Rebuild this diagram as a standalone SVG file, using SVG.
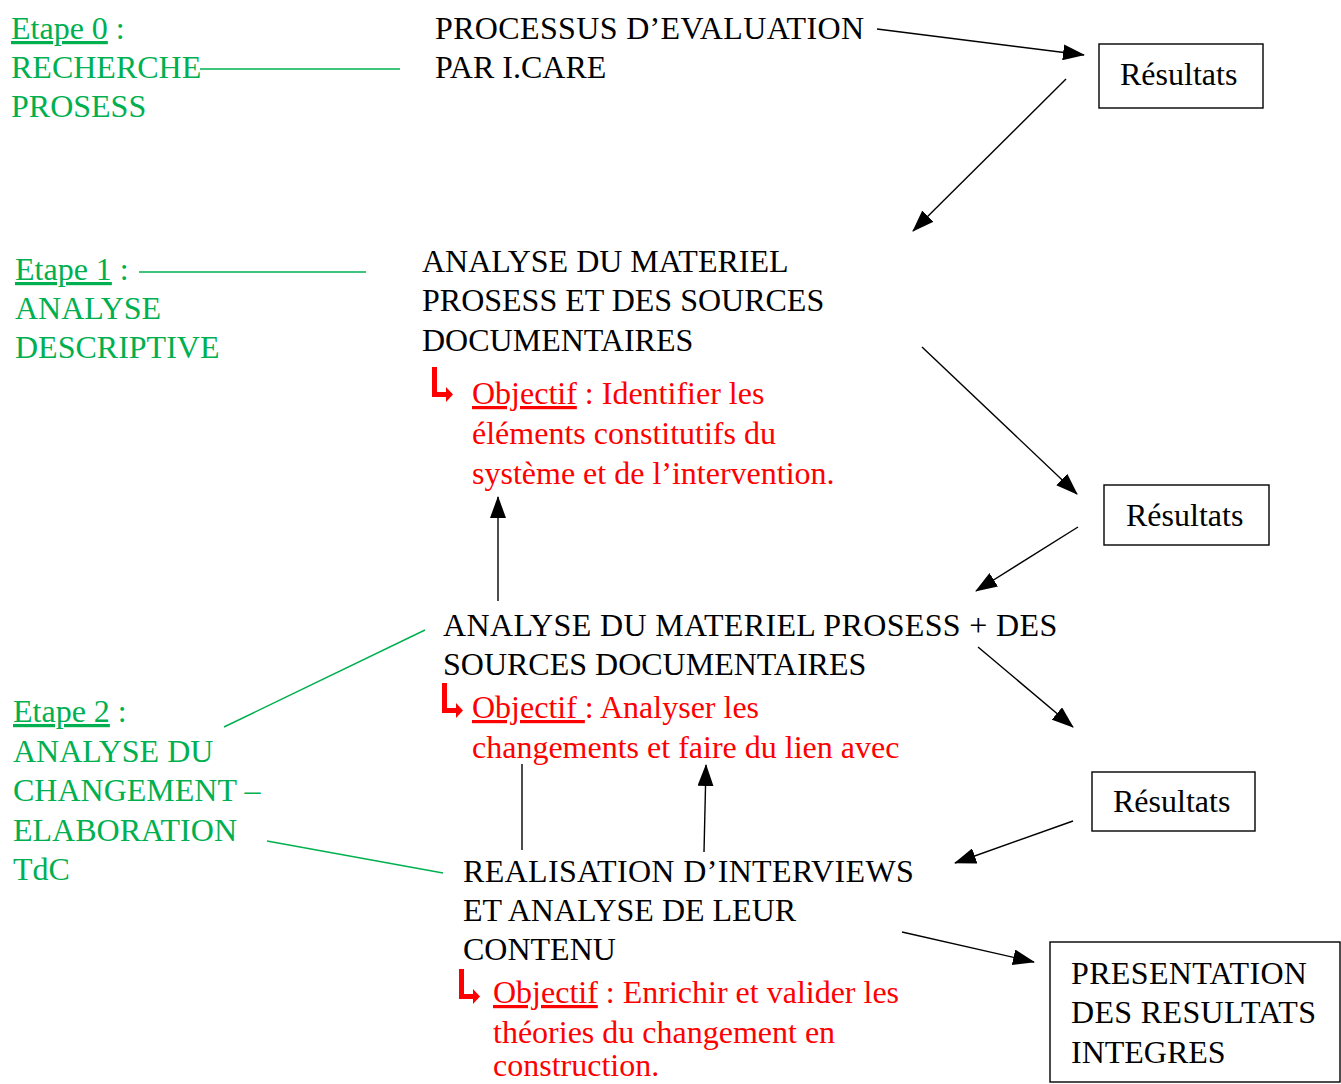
<svg xmlns="http://www.w3.org/2000/svg" width="1341" height="1084" viewBox="0 0 1341 1084" font-family="'Liberation Serif', 'DejaVu Serif', serif">
<style>
text{font-family:'Liberation Serif','DejaVu Serif',serif;font-size:32px;}
.k{fill:#000;}
.g{fill:#00B050;}
.r{fill:#FF0000;}
.w{letter-spacing:0.35px;}
.u{text-decoration:underline;}
.con{stroke:#000;stroke-width:1.4;fill:none;}
.gl{stroke:#00B050;stroke-width:1.5;fill:none;}
.box{fill:#fff;stroke:#000;stroke-width:1.4;}
</style>
<defs>
<marker id="ah" markerUnits="userSpaceOnUse" markerWidth="22" markerHeight="16" refX="21" refY="8" orient="auto">
<path d="M0,0 L22,8 L0,16 Z" fill="#000"/>
</marker>
<path id="ricon" d="M0,0 H5 V25 H14 V20 L21,27.5 L14,35 V30 H0 Z" fill="#FF0000"/>
</defs>
<rect width="1341" height="1084" fill="#fff"/>

<g id="connectors">
<line class="con" x1="877" y1="29" x2="1084" y2="55" marker-end="url(#ah)"/>
<line class="con" x1="1066" y1="79" x2="913" y2="231" marker-end="url(#ah)"/>
<line class="con" x1="922" y1="347" x2="1077" y2="494" marker-end="url(#ah)"/>
<line class="con" x1="1078" y1="527" x2="976" y2="591" marker-end="url(#ah)"/>
<line class="con" x1="498" y1="601" x2="498" y2="497" marker-end="url(#ah)"/>
<line class="con" x1="978" y1="647" x2="1073" y2="727" marker-end="url(#ah)"/>
<line class="con" x1="1073" y1="821" x2="955" y2="863" marker-end="url(#ah)"/>
<line class="con" x1="522" y1="764" x2="522" y2="850"/>
<line class="con" x1="704" y1="852" x2="706" y2="765" marker-end="url(#ah)"/>
<line class="con" x1="902" y1="932" x2="1034" y2="962" marker-end="url(#ah)"/>
<line class="gl" x1="200" y1="69" x2="400" y2="69"/>
<line class="gl" x1="139" y1="272" x2="366" y2="272"/>
<line class="gl" x1="224" y1="727" x2="425" y2="630"/>
<line class="gl" x1="267" y1="841" x2="443" y2="873"/>
</g>

<g id="etape0">
<text class="g" x="11" y="39"><tspan class="u">Etape 0</tspan> :</text>
<text class="g" x="11" y="78">RECHERCHE</text>
<text class="g" x="11" y="117">PROSESS</text>
</g>

<g id="processus">
<text class="k w" x="435" y="39">PROCESSUS D’EVALUATION</text>
<text class="k" x="435" y="78">PAR I.CARE</text>
</g>

<g id="resultats1">
<rect class="box" x="1099" y="44" width="164" height="64"/>
<text class="k" x="1120" y="85">Résultats</text>
</g>

<g id="etape1">
<text class="g" x="15" y="280"><tspan class="u">Etape 1</tspan> :</text>
<text class="g" x="15" y="319">ANALYSE</text>
<text class="g" x="15" y="358">DESCRIPTIVE</text>
</g>

<g id="analyse1">
<text class="k" x="422" y="272">ANALYSE DU MATERIEL</text>
<text class="k" x="422" y="311">PROSESS ET DES SOURCES</text>
<text class="k" x="422" y="351">DOCUMENTAIRES</text>
</g>

<g id="objectif1">
<use href="#ricon" x="432" y="367"/>
<text class="r" x="472" y="404"><tspan class="u">Objectif</tspan> : Identifier les</text>
<text class="r" x="472" y="444">éléments constitutifs du</text>
<text class="r" x="472" y="484">système et de l’intervention.</text>
</g>

<g id="resultats2">
<rect class="box" x="1104" y="485" width="165" height="60"/>
<text class="k" x="1126" y="526">Résultats</text>
</g>

<g id="analyse2">
<text class="k w" x="443" y="636">ANALYSE DU MATERIEL PROSESS + DES</text>
<text class="k" x="443" y="675">SOURCES DOCUMENTAIRES</text>
</g>

<g id="objectif2">
<use href="#ricon" x="442" y="683"/>
<text class="r" x="472" y="718" xml:space="preserve"><tspan class="u">Objectif </tspan>: Analyser les</text>
<text class="r" x="472" y="758">changements et faire du lien avec</text>
</g>

<g id="etape2">
<text class="g" x="13" y="722"><tspan class="u">Etape 2</tspan> :</text>
<text class="g" x="13" y="762">ANALYSE DU</text>
<text class="g" x="13" y="801">CHANGEMENT –</text>
<text class="g" x="13" y="841">ELABORATION</text>
<text class="g" x="13" y="880">TdC</text>
</g>

<g id="resultats3">
<rect class="box" x="1092" y="772" width="163" height="59"/>
<text class="k" x="1113" y="812">Résultats</text>
</g>

<g id="interviews">
<text class="k w" x="463" y="882">REALISATION D’INTERVIEWS</text>
<text class="k" x="463" y="921">ET ANALYSE DE LEUR</text>
<text class="k" x="463" y="960">CONTENU</text>
</g>

<g id="objectif3">
<use href="#ricon" x="459" y="969"/>
<text class="r" x="493" y="1003"><tspan class="u">Objectif</tspan> : Enrichir et valider les</text>
<text class="r" x="493" y="1043">théories du changement en</text>
<text class="r" x="493" y="1076">construction.</text>
</g>

<g id="presentation">
<rect class="box" x="1050" y="942" width="290" height="140"/>
<text class="k w" x="1071" y="984">PRESENTATION</text>
<text class="k w" x="1071" y="1023">DES RESULTATS</text>
<text class="k" x="1071" y="1063">INTEGRES</text>
</g>
</svg>
